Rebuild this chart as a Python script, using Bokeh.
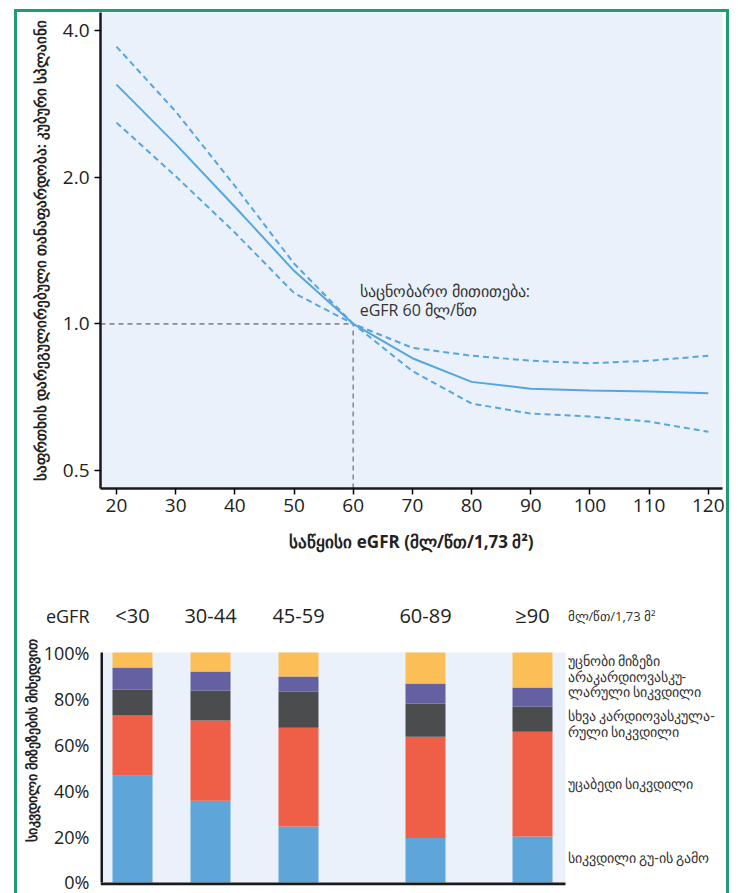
from bokeh.plotting import figure
from bokeh.layouts import column
from bokeh.models import (FixedTicker, CustomJSTickFormatter, Label, ColumnDataSource)
from bokeh.core.properties import value
from bokeh.embed import file_html
from bokeh.resources import INLINE

# ---------------- top chart data ----------------
egfr = [20, 30, 40, 50, 60, 70, 80, 90, 100, 110, 120]
hr_est = [3.10, 2.34, 1.74, 1.285, 1.0, 0.85, 0.76, 0.736, 0.73, 0.726, 0.72]
hr_upper = [3.71, 2.73, 1.92, 1.33, 1.0, 0.893, 0.86, 0.84, 0.83, 0.84, 0.86]
hr_lower = [2.59, 2.01, 1.54, 1.157, 1.0, 0.80, 0.686, 0.654, 0.645, 0.63, 0.60]
hr_ticks = [0.5, 1.0, 2.0, 4.0]
ref_egfr = 60
ref_hr = 1.0

y_label_top = "საფრთხის დარეგულირებული თანაფარდობა: კუბური სპლაინი"
x_label_top = "საწყისი eGFR (მლ/წთ/1,73 მ²)"
ref_text_1 = "საცნობარო მითითება:"
ref_text_2 = f"eGFR {ref_egfr} მლ/წთ"

# ---------------- bottom chart data ----------------
groups = ["<30", "30-44", "45-59", "60-89", "≥90"]
group_pos = [30, 108, 196, 323, 430]
hf_death = [46.4, 35.6, 24.4, 19.4, 20.0]
sudden_death = [26.2, 34.8, 42.9, 44.0, 45.6]
other_cv_death = [11.3, 13.1, 15.7, 14.4, 10.9]
non_cv_death = [9.6, 8.2, 6.6, 8.7, 8.3]
unknown_cause = [6.5, 8.3, 10.4, 13.5, 15.2]
pct_ticks = [0, 20, 40, 60, 80, 100]
header_row = 116          # vertical slot (in % units) of the header line

y_label_bottom = "სიკვდილი მიზეზების მიხედვით"
header_left = "eGFR"
units_text = "მლ/წთ/1,73 მ²"
legend_lines = [
    ("უცნობი მიზეზი", 96.5),
    ("არაკარდიოვასკუ-", 89.5),
    ("ლარული სიკვდილი", 82.9),
    ("სხვა კარდიოვასკულა-", 72.6),
    ("რული სიკვდილი", 65.8),
    ("უცაბედი სიკვდილი", 43.0),
    ("სიკვდილი გუ-ის გამო", 10.9),
]

FONT = "Open Sans"
BG = "#eaf1fa"
LINE = "#55a6df"
TXT = "#222222"
AXC = "#1a1a1a"

# ================= top figure =================
p1 = figure(width=709, height=568, y_axis_type="log",
            x_range=(17.3, 122.4), y_range=(0.459, 4.36),
            output_backend="svg", toolbar_location=None,
            min_border_left=83, min_border_right=4,
            min_border_top=0, min_border_bottom=92)
p1.background_fill_color = BG
p1.border_fill_color = "white"
p1.outline_line_color = None
p1.xgrid.visible = False
p1.ygrid.visible = False

p1.segment(x0=[p1.x_range.start], y0=[ref_hr], x1=[ref_egfr], y1=[ref_hr],
           line_color="#8c8c8c", line_width=1.6, line_dash="5 4")
p1.segment(x0=[ref_egfr], y0=[p1.y_range.start], x1=[ref_egfr], y1=[ref_hr],
           line_color="#8c8c8c", line_width=1.6, line_dash="5 4")

p1.line(egfr, hr_upper, line_color=LINE, line_width=2, line_dash="6 4")
p1.line(egfr, hr_lower, line_color=LINE, line_width=2, line_dash="6 4")
p1.line(egfr, hr_est, line_color=LINE, line_width=2)

p1.add_layout(Label(x=61.1, y=1.17, text=ref_text_1, text_font=FONT,
                    text_font_size="16px", text_color="#333333",
                    text_baseline="alphabetic"))
p1.add_layout(Label(x=61.1, y=1.07, text=ref_text_2, text_font=FONT,
                    text_font_size="16px", text_color="#333333",
                    text_baseline="alphabetic"))

ya = p1.yaxis[0]
ya.ticker = FixedTicker(ticks=hr_ticks)
ya.formatter = CustomJSTickFormatter(code="return tick.toFixed(1);")
ya.major_label_text_font = FONT
ya.major_label_text_font_size = "19px"
ya.major_label_text_color = TXT
ya.axis_line_width = 2.5
ya.axis_line_color = AXC
ya.major_tick_out = 6
ya.major_tick_in = 0
ya.major_tick_line_width = 1.5
ya.minor_tick_line_color = None
ya.major_label_standoff = 5
ya.axis_label = y_label_top
ya.axis_label_text_font = FONT
ya.axis_label_text_font_style = "bold"
ya.axis_label_text_font_size = "15px"
ya.axis_label_text_color = TXT
ya.axis_label_standoff = 10

xa = p1.xaxis[0]
xa.ticker = FixedTicker(ticks=egfr)
xa.major_label_text_font = FONT
xa.major_label_text_font_size = "19px"
xa.major_label_text_color = TXT
xa.axis_line_width = 2.5
xa.axis_line_color = AXC
xa.major_tick_out = 6
xa.major_tick_in = 0
xa.major_tick_line_width = 1.5
xa.minor_tick_line_color = None
xa.major_label_standoff = 4
xa.axis_label = x_label_top
xa.axis_label_text_font = FONT
xa.axis_label_text_font_style = "bold"
xa.axis_label_text_font_size = "17px"
xa.axis_label_text_color = TXT
xa.axis_label_standoff = 15

# ================= bottom figure =================
panel_right = 463
p2 = figure(width=709, height=313, x_range=(-2, 620), y_range=(-1.3, 124.8),
            output_backend="svg", toolbar_location=None,
            x_axis_location=None,
            min_border_left=83, min_border_right=4,
            min_border_top=15, min_border_bottom=8)
p2.background_fill_color = "white"
p2.border_fill_color = "white"
p2.outline_line_color = None
p2.xgrid.visible = False
p2.ygrid.visible = False

# plotting panel background (0..100 %)
p2.quad(left=[p2.x_range.start], right=[panel_right], bottom=[0], top=[100],
        fill_color=BG, line_color=None)

stackers = ["hf", "sudden", "othercv", "noncv", "unknown"]
colors = ["#5ea5da", "#ef5f48", "#4b4c4e", "#6560a2", "#fcbf58"]
src = ColumnDataSource(dict(x=group_pos, hf=hf_death, sudden=sudden_death,
                            othercv=other_cv_death, noncv=non_cv_death,
                            unknown=unknown_cause))
p2.vbar_stack(stackers, x="x", width=40, color=colors, line_color=None, source=src)

# axis lines of the panel
p2.segment(x0=[-1], y0=[0], x1=[-1], y1=[100], line_color=AXC, line_width=3)
p2.segment(x0=[p2.x_range.start], y0=[-0.65], x1=[panel_right], y1=[-0.65],
           line_color=AXC, line_width=3)

# header row: group labels
hdr = ColumnDataSource(dict(x=group_pos, y=[header_row] * len(groups), t=groups))
p2.text(x="x", y="y", text="t", source=hdr, text_font=value(FONT),
        text_font_size="20px", text_color=TXT, text_align="center",
        text_baseline="middle")

ya2 = p2.yaxis[0]
ya2.ticker = FixedTicker(ticks=pct_ticks + [header_row])
ya2.formatter = CustomJSTickFormatter(
    args=dict(top=100, hdr=header_left),
    code="return tick > top ? hdr : tick + '%';")
ya2.major_label_text_font = FONT
ya2.major_label_text_font_size = "18px"
ya2.major_label_text_color = TXT
ya2.axis_line_color = None
ya2.major_tick_line_color = None
ya2.minor_tick_line_color = None
ya2.major_label_standoff = 5
ya2.axis_label = y_label_bottom
ya2.axis_label_text_font = FONT
ya2.axis_label_text_font_style = "bold"
ya2.axis_label_text_font_size = "14px"
ya2.axis_label_text_color = TXT
ya2.axis_label_standoff = 0

p2.add_layout(Label(x=panel_right + 2, y=header_row, text=units_text, text_font=FONT,
                    text_font_size="13px", text_color="#333333",
                    text_align="left", text_baseline="middle"))
for txt, yv in legend_lines:
    p2.add_layout(Label(x=panel_right + 2, y=yv, text=txt, text_font=FONT,
                        text_font_size="14px", text_color="#333333",
                        text_align="left", text_baseline="middle"))

layout = column(p1, p2, margin=(9, 0, 0, 14),
                styles={"border-left": "3px solid #1f9d72",
                        "border-right": "3px solid #1f9d72",
                        "border-top": "3px solid #1f9d72"})

open("out.html", "w").write(file_html(layout, INLINE))
